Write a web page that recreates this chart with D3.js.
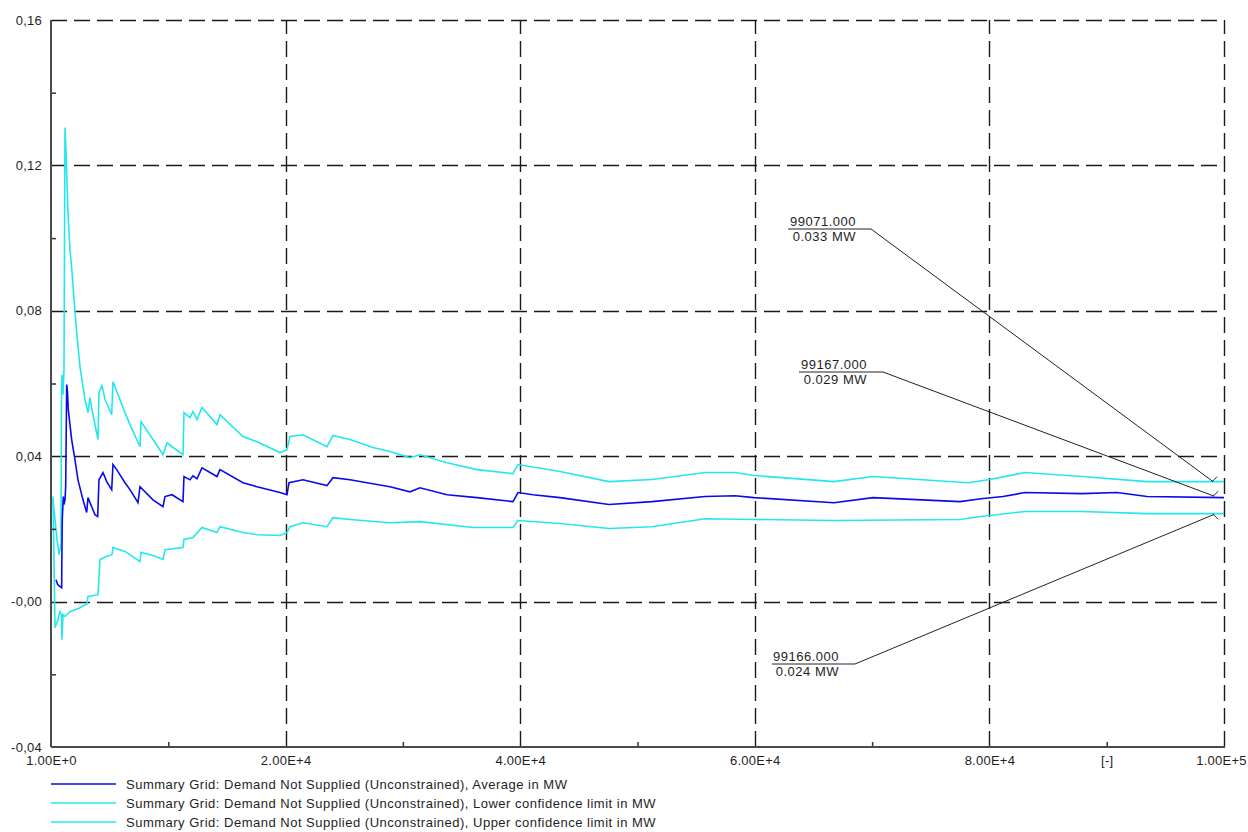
<!DOCTYPE html>
<html>
<head>
<meta charset="utf-8">
<script src="https://cdn.jsdelivr.net/npm/d3@7"></script>
<style>
  html, body { margin: 0; padding: 0; background: #ffffff; }
  svg { display: block; font-family: "Liberation Sans", Arial, sans-serif; }
</style>
</head>
<body>
<svg id="chart" width="1248" height="832"></svg>
<script>
// ---------------- DATA ----------------
const xMajorTicks = [1, 20000, 40000, 60000, 80000, 100000];
const xMajorLabels = ["1.00E+0", "2.00E+4", "4.00E+4", "6.00E+4", "8.00E+4", "1.00E+5"];
const xMinorTicks = [10000, 30000, 50000, 70000, 90000];
const xMinorLabels = ["", "", "", "", "[-]"];
const yMajorTicks = [-0.04, 0, 0.04, 0.08, 0.12, 0.16];
const yMajorLabels = ["-0,04", "-0,00", "0,04", "0,08", "0,12", "0,16"];
const yMinorTicks = [-0.02, 0.02, 0.06, 0.10, 0.14];

const seriesNames = [
  "Summary Grid: Demand Not Supplied (Unconstrained), Average in MW",
  "Summary Grid: Demand Not Supplied (Unconstrained), Lower confidence limit in MW",
  "Summary Grid: Demand Not Supplied (Unconstrained), Upper confidence limit in MW"
];
const seriesColors = ["#0a0aee", "#22e8ee", "#22e8ee"];

const avgX = [426, 571, 767, 912, 920, 963, 1049, 1108, 1194, 1253, 1338, 1407, 1475, 1765, 2046, 2302, 2728, 3043, 3154, 3470, 3751, 3981, 4092, 4433, 4748, 5175, 5286, 5601, 6309, 6735, 7417, 7588, 8696, 9548, 9719, 10315, 11253, 11338, 11850, 12106, 12447, 12873, 14151, 14407, 16368, 17561, 19522, 20119, 20289, 21483, 23529, 24040, 25489, 26939, 28900, 30605, 31457, 33759, 36317, 39386, 39812, 41091, 43393, 47570, 51236, 55754, 58312, 59932, 66752, 70077, 77494, 79284, 81160, 83035, 87894, 90878, 93436, 100000];
const avgY = [0.0060, 0.0047, 0.0041, 0.0038, 0.0096, 0.0225, 0.0289, 0.0267, 0.0280, 0.0316, 0.0597, 0.0577, 0.0528, 0.0445, 0.0390, 0.0335, 0.0280, 0.0245, 0.0286, 0.0261, 0.0239, 0.0234, 0.0335, 0.0355, 0.0330, 0.0308, 0.0377, 0.0363, 0.0327, 0.0308, 0.0272, 0.0316, 0.0280, 0.0261, 0.0289, 0.0294, 0.0275, 0.0344, 0.0335, 0.0346, 0.0338, 0.0368, 0.0344, 0.0363, 0.0327, 0.0316, 0.0300, 0.0294, 0.0327, 0.0335, 0.0319, 0.0341, 0.0335, 0.0327, 0.0316, 0.0302, 0.0313, 0.0294, 0.0286, 0.0275, 0.0300, 0.0294, 0.0286, 0.0267, 0.0275, 0.0289, 0.0291, 0.0286, 0.0272, 0.0286, 0.0275, 0.0283, 0.0289, 0.0300, 0.0297, 0.0300, 0.0289, 0.0286];

const lowX = [170, 256, 341, 597, 767, 895, 938, 1023, 1194, 1620, 2472, 3069, 3154, 4007, 4177, 4689, 5200, 5286, 6309, 7588, 7673, 8696, 9548, 9719, 11253, 11338, 12106, 12873, 14151, 14407, 16368, 17561, 19522, 20119, 20375, 21483, 23529, 24040, 25489, 28900, 31457, 35976, 39386, 39812, 43393, 47570, 51236, 55754, 59932, 66752, 77494, 79284, 83035, 87894, 93436, 100000];
const lowY = [0.0289, 0.0116, -0.0072, -0.0050, -0.0028, -0.0036, -0.0105, -0.0036, -0.0041, -0.0028, -0.0017, -0.0006, 0.0014, 0.0019, 0.0116, 0.0124, 0.0129, 0.0149, 0.0138, 0.0110, 0.0135, 0.0127, 0.0116, 0.0143, 0.0149, 0.0171, 0.0176, 0.0204, 0.0190, 0.0206, 0.0190, 0.0184, 0.0182, 0.0190, 0.0206, 0.0217, 0.0206, 0.0231, 0.0226, 0.0217, 0.0220, 0.0204, 0.0204, 0.0223, 0.0215, 0.0201, 0.0206, 0.0228, 0.0226, 0.0223, 0.0226, 0.0234, 0.0248, 0.0248, 0.0242, 0.0242];

const upX = [170, 341, 512, 682, 853, 895, 938, 1023, 1108, 1194, 1279, 1364, 1449, 1620, 1790, 1901, 2191, 2472, 2899, 3154, 3325, 3495, 4007, 4092, 4348, 4604, 5175, 5286, 6309, 6735, 7588, 7673, 8696, 9548, 9889, 10315, 11253, 11338, 11850, 12106, 12447, 12873, 14151, 14407, 16368, 17561, 19522, 20119, 20375, 21483, 23529, 24040, 25489, 27450, 28900, 30605, 31457, 33759, 36317, 39386, 39812, 43393, 47570, 51236, 55754, 58312, 59932, 66752, 70077, 78176, 80051, 83035, 87894, 93436, 100000];
const upY = [0.0281, 0.0226, 0.0171, 0.0129, 0.0157, 0.0556, 0.0624, 0.0569, 0.0638, 0.1304, 0.1243, 0.1152, 0.1070, 0.0968, 0.0908, 0.0858, 0.0740, 0.0646, 0.0556, 0.0520, 0.0561, 0.0528, 0.0446, 0.0575, 0.0594, 0.0556, 0.0514, 0.0605, 0.0520, 0.0487, 0.0426, 0.0495, 0.0446, 0.0404, 0.0437, 0.0426, 0.0404, 0.0520, 0.0506, 0.0523, 0.0501, 0.0534, 0.0487, 0.0514, 0.0454, 0.0440, 0.0410, 0.0418, 0.0454, 0.0459, 0.0426, 0.0457, 0.0446, 0.0424, 0.0413, 0.0396, 0.0404, 0.0382, 0.0363, 0.0352, 0.0377, 0.0358, 0.0330, 0.0336, 0.0355, 0.0355, 0.0347, 0.0330, 0.0344, 0.0327, 0.0336, 0.0355, 0.0344, 0.0330, 0.0330];

const annotationX = [99071, 99167, 99166];
const annotationY = [0.033, 0.029, 0.024];
const annotationTop = ["99071.000", "99167.000", "99166.000"];
const annotationBottom = ["0.033 MW", "0.029 MW", "0.024 MW"];

// ---------------- LAYOUT ----------------
const svg = d3.select("#chart");
const plotLeft = 51, plotRight = 1224, plotTop = 20, plotBottom = 747;
const x = d3.scaleLinear().domain([1, 100000]).range([plotLeft, plotRight]);
const y = d3.scaleLinear().domain([-0.04, 0.16]).range([plotBottom, plotTop]);
const fontSize = 13;
const letterSpacing = 0.5;
const axisLetterSpacing = 0.25;
const textColor = "#1e1e1e";

// gridlines
const grid = svg.append("g");
grid.selectAll("line.hg").data(yMajorTicks.filter(v => v !== -0.04)).join("line")
  .attr("x1", plotLeft).attr("x2", plotRight)
  .attr("y1", d => Math.round(y(d)) + 0.5).attr("y2", d => Math.round(y(d)) + 0.5)
  .attr("stroke", "#1a1a1a").attr("stroke-width", 1.4).attr("stroke-dasharray", "16,7");
grid.selectAll("line.vg").data(xMajorTicks.filter(v => v !== 1)).join("line")
  .attr("x1", d => Math.round(x(d)) + 0.5).attr("x2", d => Math.round(x(d)) + 0.5)
  .attr("y1", plotBottom).attr("y2", plotTop)
  .attr("stroke", "#1a1a1a").attr("stroke-width", 1.4).attr("stroke-dasharray", "16,7");

// series lines
const line = d3.line().x(d => x(d[0])).y(d => y(d[1])).curve(d3.curveLinear);
const series = [
  { xs: upX, ys: upY, color: seriesColors[2] },
  { xs: lowX, ys: lowY, color: seriesColors[1] },
  { xs: avgX, ys: avgY, color: seriesColors[0] }
];
svg.append("g").selectAll("path").data(series).join("path")
  .attr("d", s => line(s.xs.map((v, i) => [v, s.ys[i]])))
  .attr("fill", "none").attr("stroke", s => s.color).attr("stroke-width", 1.6)
  .attr("stroke-linejoin", "miter");

// axes
const yAxisMajor = d3.axisLeft(y).tickValues(yMajorTicks)
  .tickFormat((d, i) => yMajorLabels[i]).tickSize(0).tickPadding(9);
const yAxisMinor = d3.axisLeft(y).tickValues(yMinorTicks).tickFormat("").tickSize(-5);
const xAxisMajor = d3.axisBottom(x).tickValues(xMajorTicks)
  .tickFormat((d, i) => xMajorLabels[i]).tickSize(0).tickPadding(9);
const xAxisMinor = d3.axisBottom(x).tickValues(xMinorTicks)
  .tickFormat((d, i) => xMinorLabels[i]).tickSize(-5).tickPadding(9);

function styleAxis(g) {
  g.select(".domain").remove();
  g.selectAll("line").attr("stroke", "#333").attr("stroke-width", 1.5);
  g.selectAll("text").attr("fill", textColor).attr("font-size", fontSize)
    .attr("letter-spacing", axisLetterSpacing)
    .attr("font-family", "'Liberation Sans', Arial, sans-serif");
}
svg.append("g").attr("transform", `translate(${plotLeft},0)`).call(yAxisMajor).call(styleAxis);
svg.append("g").attr("transform", `translate(${plotLeft},0)`).call(yAxisMinor).call(styleAxis);
const gxMajor = svg.append("g").attr("transform", `translate(0,${plotBottom})`).call(xAxisMajor).call(styleAxis);
gxMajor.selectAll(".tick text").filter(d => d === 100000).attr("dx", -3);
svg.append("g").attr("transform", `translate(0,${plotBottom})`).call(xAxisMinor).call(styleAxis);

// axis lines
svg.append("line").attr("x1", plotLeft).attr("x2", plotLeft).attr("y1", plotTop).attr("y2", plotBottom)
  .attr("stroke", "#4a4a4a").attr("stroke-width", 2);
svg.append("line").attr("x1", plotLeft).attr("x2", plotRight + 1).attr("y1", plotBottom).attr("y2", plotBottom)
  .attr("stroke", "#4a4a4a").attr("stroke-width", 2);

// annotations (label anchor positions in px)
const labelRight = [856, 867, 839];
const labelLineStart = [788, 799, 772];
const labelLineEnd = [871, 883, 855];
const labelLineY = [229, 372, 664];
const ann = svg.append("g");
annotationX.forEach((ax, i) => {
  const px = x(ax), py = y(annotationY[i]);
  ann.append("line").attr("x1", labelLineStart[i]).attr("x2", labelLineEnd[i])
    .attr("y1", labelLineY[i]).attr("y2", labelLineY[i])
    .attr("stroke", "#222").attr("stroke-width", 1);
  ann.append("line").attr("x1", labelLineEnd[i]).attr("y1", labelLineY[i])
    .attr("x2", px).attr("y2", py).attr("stroke", "#222").attr("stroke-width", 1);
  const dir = py > labelLineY[i] ? -1 : 1;
  ann.append("line").attr("x1", px - 1).attr("y1", py)
    .attr("x2", px + 4).attr("y2", py + dir * 5)
    .attr("stroke", "#222").attr("stroke-width", 1);
  ann.append("text").attr("x", labelRight[i]).attr("y", labelLineY[i] - 3)
    .attr("text-anchor", "end").attr("font-size", fontSize).attr("letter-spacing", letterSpacing)
    .attr("fill", textColor).text(annotationTop[i]);
  ann.append("text").attr("x", labelRight[i]).attr("y", labelLineY[i] + 12)
    .attr("text-anchor", "end").attr("font-size", fontSize).attr("letter-spacing", letterSpacing)
    .attr("fill", textColor).text(annotationBottom[i]);
});

// legend
const legendY = [784, 803, 822];
const legend = svg.append("g");
seriesNames.forEach((name, i) => {
  legend.append("line").attr("x1", 51).attr("x2", 116).attr("y1", legendY[i]).attr("y2", legendY[i])
    .attr("stroke", seriesColors[i]).attr("stroke-width", 1.6);
  legend.append("text").attr("x", 126).attr("y", legendY[i] + 4.5)
    .attr("font-size", fontSize).attr("letter-spacing", letterSpacing)
    .attr("fill", textColor).text(name);
});
</script>
</body>
</html>
